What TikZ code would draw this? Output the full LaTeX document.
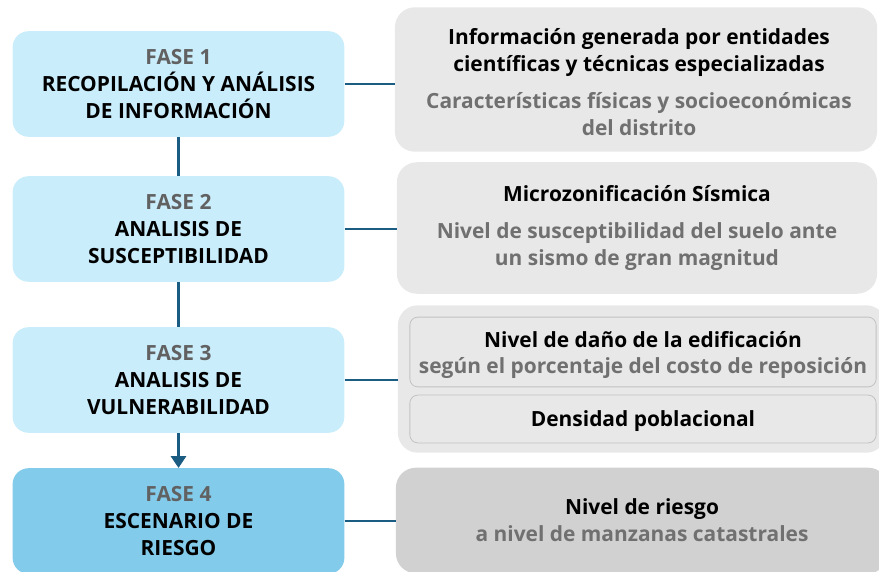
\documentclass[tikz,border=0pt]{standalone}
\usepackage{fontspec}
\setmainfont{Open Sans}
\usetikzlibrary{arrows.meta,positioning}
\definecolor{faseclaro}{HTML}{CAEDFB}
\definecolor{faseoscuro}{HTML}{83CBEB}
\definecolor{enlace}{HTML}{1B5C83}
\definecolor{grisclaro}{HTML}{E8E8E8}
\definecolor{grisoscuro}{HTML}{D1D1D1}
\definecolor{textogris}{HTML}{707070}
\definecolor{fasegris}{HTML}{616161}
\definecolor{bordegris}{HTML}{C2C2C2}
\tikzset{
  fase/.style={fill=faseclaro, rounded corners=16, minimum width=333, minimum height=106,
    inner sep=0pt, align=center, font=\fontsize{21}{27}\selectfont\bfseries},
  info/.style={fill=grisclaro, rounded corners=20, inner sep=0pt, align=center,
    font=\fontsize{21}{27}\selectfont\bfseries},
  texto/.style={inner sep=0pt, align=center, font=\fontsize{21}{27}\selectfont\bfseries},
  subinfo/.style={draw=bordegris, line width=0.8, fill=grisclaro, rounded corners=8,
    minimum width=468, inner sep=0pt},
  rama/.style={enlace, line width=2.3},
  tronco/.style={enlace, line width=4},
}
\newcommand{\fasenum}[1]{\textcolor{fasegris}{#1}}
\newcommand{\gris}[1]{\textcolor{textogris}{#1}}
\begin{document}
\begin{tikzpicture}[x=1bp, y=1bp]
    \useasboundingbox (0,0) rectangle (879,-572);
    %%Fases
    \node[fase] (fase1) at (178.5,-84) {\fasenum{FASE 1}\\RECOPILACIÓN Y ANÁLISIS\\DE INFORMACIÓN};
    \node[fase] (fase2) at (178.5,-229) {\fasenum{FASE 2}\\ANALISIS DE\\SUSCEPTIBILIDAD};
    \node[fase] (fase3) at (178.5,-380) {\fasenum{FASE 3}\\ANALISIS DE\\VULNERABILIDAD};
    \node[fase, fill=faseoscuro] (fase4) at (178.5,-521) {\fasenum{FASE 4}\\ESCENARIO DE\\RIESGO};
    %%Informacion
    \node[info, minimum width=484, minimum height=145] (info1) at (636,-79.5) {};
    \node[texto] (texto1) at (639,-82)
        {Información generada por entidades\\científicas y técnicas especializadas\\[10pt]
         \gris{Características físicas y socioeconómicas}\\\gris{del distrito}};
    \node[info, minimum width=482, minimum height=132] (info2) at (637,-228)
        {Microzonificación Sísmica\\[11pt]
         \gris{Nivel de susceptibilidad del suelo ante}\\\gris{un sismo de gran magnitud}};
    \node[info, minimum width=490, minimum height=148] (info3) at (642,-379) {};
    \node[subinfo, minimum height=70] (dano) at (643,-352) {};
    \node[texto] (danotexto) at (643,-355)
        {Nivel de daño de la edificación\\\gris{según el porcentaje del costo de reposición}};
    \node[subinfo, minimum height=48] (densidad) at (643,-419) {};
    \node[texto] (densidadtexto) at (643,-421.5) {Densidad poblacional};
    \node[info, fill=grisoscuro, minimum width=494, minimum height=106] (info4) at (642,-520.5)
        {Nivel de riesgo\\\gris{a nivel de manzanas catastrales}};
    %%Conectores
    \draw[tronco] (fase1) -- (fase2);
    \draw[tronco] (fase2) -- (fase3);
    \draw[tronco, -{Triangle[length=12, width=15]}] (fase3) -- (fase4);
    \draw[rama] (fase1.east) -- (fase1.east -| info1.west);
    \draw[rama] (fase2.east) -- (fase2.east -| info2.west);
    \draw[rama] (fase3.east) -- (fase3.east -| info3.west);
    \draw[rama] (fase4.east) -- (fase4.east -| info4.west);
\end{tikzpicture}
\end{document}
